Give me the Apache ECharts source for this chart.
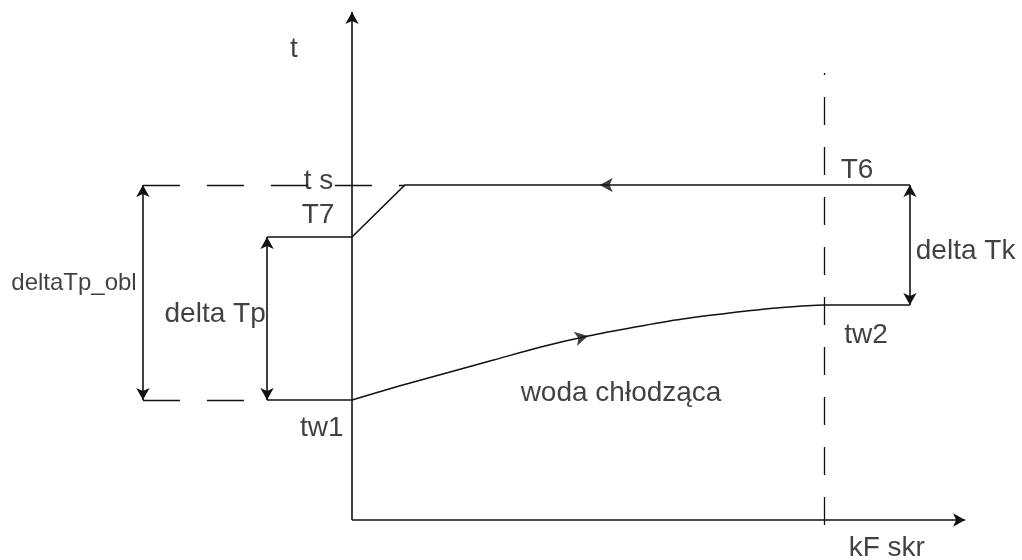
<!DOCTYPE html>
<html>
<head>
<meta charset="utf-8">
<script src="https://cdn.jsdelivr.net/npm/echarts@6/dist/echarts.min.js"></script>
<style>
  html, body { margin: 0; padding: 0; background: #fff; }
  #wykres { width: 1022px; height: 560px; }
</style>
</head>
<body>
<div id="wykres"></div>
<script>
// Temperatury charakterystyczne skraplacza
const ts = 33.5;   // temperatura nasycenia
const T7 = 28.3;   // temperatura skroplin
const tw1 = 12.0;  // woda chłodząca – wlot
const tw2 = 21.5;  // woda chłodząca – wylot

// Położenia na osi kF skr
const kfKoniec = 10;          // koniec powierzchni (linia przerywana)
const kfWylot = 11.82;        // strona T6 / tw2
const kfPara = 1.12;          // koniec schładzania pary
const kfDeltaTp = -1.80;      // wymiar delta Tp
const kfDeltaObl = -4.43;     // wymiar deltaTp_obl
const osX = [0, 12.99];       // zakres osi kF skr
const osT = [0, 50.8];        // zakres osi t
const przerywanaT = [-0.5, 44.7];

// Przebieg temperatury wody chłodzącej wzdłuż powierzchni
const kfWoda = [0, 1, 2, 3, 4, 5, 6, 7, 8, 9, 10];
const tWoda = [12.0, 13.4, 14.7, 16.0, 17.3, 18.4, 19.3, 20.1, 20.7, 21.2, 21.5];

// Przebieg temperatury czynnika (skropliny -> para)
const kfCzynnik = [kfDeltaTp, 0, kfPara, kfWylot];
const tCzynnik = [T7, T7, ts, ts];

const czarny = '#111';
const font = '"Liberation Sans", Arial, sans-serif';

const wodaDane = kfWoda.map((k, i) => [k, tWoda[i]]).concat([[kfWylot, tw2]]);
const czynnikDane = kfCzynnik.map((k, i) => [k, tCzynnik[i]]);

const chart = echarts.init(document.getElementById('wykres'), null, { renderer: 'canvas' });

function odcinki(pary, styl, symbole) {
  return {
    type: 'line', data: [], silent: true,
    markLine: {
      silent: true, animation: false,
      symbol: symbole, symbolSize: [10, 12],
      label: { show: false },
      lineStyle: styl,
      emphasis: { disabled: true },
      data: pary.map(p => [{ coord: p[0] }, { coord: p[1] }])
    }
  };
}

const opisy = [
  { name: 't', value: [-1.23, 47.1] },
  { name: 't s', value: [-0.71, ts + 0.4], bg: true },
  { name: 'T7', value: [-0.72, T7 + 2.2] },
  { name: 'deltaTp_obl', value: [-5.89, 23.7], maly: true },
  { name: 'delta Tp', value: [-2.90, 20.6] },
  { name: 'tw1', value: [-0.64, tw1 - 2.8] },
  { name: 'woda chłodząca', value: [5.70, 12.7] },
  { name: 'T6', value: [10.70, ts + 1.5] },
  { name: 'delta Tk', value: [13.0, 26.9] },
  { name: 'tw2', value: [10.89, tw2 - 3.0] },
  { name: 'kF skr', value: [11.33, -2.8] }
];

chart.setOption({
  animation: false,
  backgroundColor: '#fff',
  grid: { left: 0, right: 0, top: 0, bottom: 0, containLabel: false },
  xAxis: { type: 'value', min: -7.4576, max: 14.1949, show: false },
  yAxis: { type: 'value', min: -4, max: 52, show: false },
  series: [
    // osie t i kF skr
    odcinki([[[0, 0], [osX[1], 0]], [[0, 0], [0, osT[1]]]],
      { color: czarny, width: 1.6, type: 'solid' }, ['none', 'arrow']),
    // linie pomocnicze przerywane
    odcinki([
      [[kfDeltaObl, ts], [kfPara, ts]],
      [[kfDeltaObl, tw1], [kfDeltaTp, tw1]]
    ], { color: czarny, width: 1.4, type: [37, 27] }, ['none', 'none']),
    odcinki([[[kfKoniec, przerywanaT[0]], [kfKoniec, przerywanaT[1]]]],
      { color: czarny, width: 1.3, type: [28, 22] }, ['none', 'none']),
    // odcinek wlotu wody
    odcinki([[[kfDeltaTp, tw1], [0, tw1]]],
      { color: czarny, width: 1.6, type: 'solid' }, ['none', 'none']),
    // wymiary (strzałki dwustronne)
    odcinki([
      [[kfDeltaObl, ts], [kfDeltaObl, tw1]],
      [[kfDeltaTp, T7], [kfDeltaTp, tw1]],
      [[kfWylot, ts], [kfWylot, tw2]]
    ], { color: czarny, width: 1.6, type: 'solid' }, ['arrow', 'arrow']),
    // czynnik: skropliny T7 -> para ts -> T6
    {
      type: 'line', name: 'czynnik', data: czynnikDane, silent: true,
      symbol: 'none', lineStyle: { color: czarny, width: 1.6 }
    },
    // woda chłodząca tw1 -> tw2
    {
      type: 'line', name: 'woda', data: wodaDane, silent: true,
      symbol: 'none', smooth: 0.3,
      lineStyle: { color: czarny, width: 1.5 }
    },
    // strzałki kierunku przepływu
    {
      type: 'scatter', silent: true, symbol: 'arrow', symbolSize: [11, 13],
      itemStyle: { color: czarny },
      data: [
        { value: [5.25, ts], symbolRotate: 90 },
        { value: [kfWoda[5], tWoda[5]], symbolRotate: -77 }
      ]
    },
    // opisy
    {
      type: 'scatter', silent: true, symbol: 'circle', symbolSize: 1,
      itemStyle: { color: 'rgba(0,0,0,0)' },
      data: opisy.map(o => ({
        name: o.name, value: o.value,
        label: {
          show: true, position: 'inside', formatter: '{b}',
          color: '#111', fontFamily: font,
          fontSize: o.maly ? 24 : 28,
          align: 'center', verticalAlign: 'middle',
          backgroundColor: o.bg ? '#fff' : 'transparent',
          padding: o.bg ? [0, 2] : 0
        }
      }))
    }
  ]
});
</script>
</body>
</html>
